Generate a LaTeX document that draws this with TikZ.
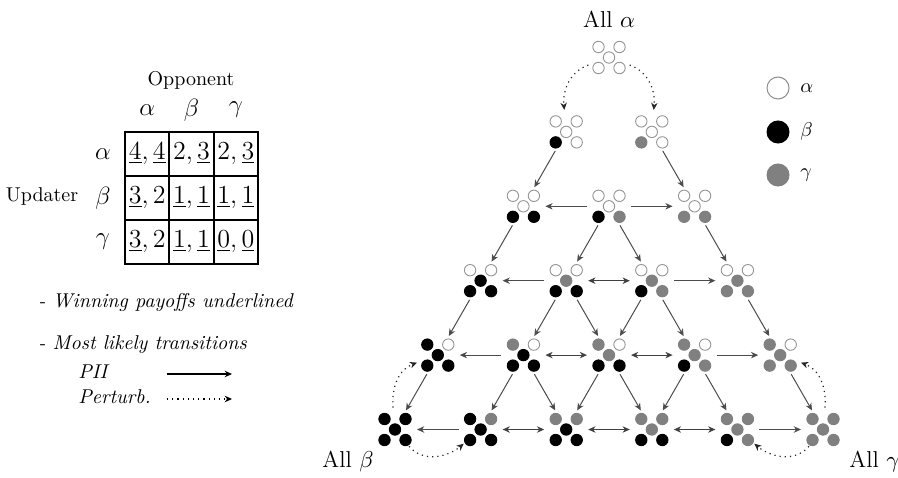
\RequirePackage{fix-cm}
\documentclass[tikz,border=0pt]{standalone}
\usetikzlibrary{arrows.meta}
\tikzset{
  state/.style={circle,minimum size=22pt,inner sep=0pt,outer sep=0pt},
  alphac/.style={circle,draw=black!42,line width=0.45pt,fill=white,minimum size=5.7pt,inner sep=0pt},
  betac/.style={circle,draw=black,line width=0.45pt,fill=black,minimum size=5.7pt,inner sep=0pt},
  gammac/.style={circle,draw=black!50,line width=0.45pt,fill=black!50,minimum size=5.7pt,inner sep=0pt},
  legc/.style={circle,line width=0.5pt,minimum size=11pt,inner sep=0pt},
  tipp/.tip={Stealth[length=3.6pt,width=3.2pt,inset=1.1pt]},
  pii/.style={draw=black!70,line width=0.5pt,-tipp},
  piib/.style={draw=black!75,line width=0.55pt,tipp-tipp},
  pert/.style={draw=black!85,line width=0.6pt,dotted,-tipp},
  cell/.style={draw=black,line width=0.9pt,minimum width=22.15pt,minimum height=22pt,inner sep=0pt,font=\fontsize{13}{15}\selectfont},
  lab/.style={inner sep=0pt,font=\fontsize{12.5}{14}\selectfont},
  txt/.style={inner sep=0pt,font=\fontsize{10}{12}\selectfont},
  itx/.style={inner sep=0pt,anchor=west,font=\fontsize{10}{12}\selectfont\itshape},
  alll/.style={inner sep=0pt,font=\fontsize{11.5}{13}\selectfont}
}
\begin{document}
\begin{tikzpicture}[x=0.5pt,y=0.5pt]
\useasboundingbox (0,0) rectangle (898,477);
% ---------- payoff matrix ----------
\node[txt] (opp) at (191,397) {Opponent};
\node[lab] (ca) at (147.2,367) {$\alpha$};
\node[lab] (cb) at (191.5,367) {$\beta$};
\node[lab] (cg) at (235.8,367) {$\gamma$};
\node[txt] (upd) at (42,280) {Updater};
\node[lab] (ra) at (103,323) {$\alpha$};
\node[lab] (rb) at (103,279) {$\beta$};
\node[lab] (rg) at (103,235) {$\gamma$};
\node[cell] (c11) at (147.2,323) {$\underline{4},\underline{4}$};
\node[cell] (c12) at (191.5,323) {$2,\underline{3}$};
\node[cell] (c13) at (235.8,323) {$2,\underline{3}$};
\node[cell] (c21) at (147.2,279) {$\underline{3},2$};
\node[cell] (c22) at (191.5,279) {$\underline{1},\underline{1}$};
\node[cell] (c23) at (235.8,279) {$\underline{1},\underline{1}$};
\node[cell] (c31) at (147.2,235) {$\underline{3},2$};
\node[cell] (c32) at (191.5,235) {$\underline{1},\underline{1}$};
\node[cell] (c33) at (235.8,235) {$\underline{0},\underline{0}$};
% ---------- notes ----------
\node[itx] (n1t) at (38,175) {- Winning payoffs underlined};
\node[itx] (n2t) at (38,132) {- Most likely transitions};
\node[itx] (piit) at (78,105) {PII};
\node[itx] (pert) at (78,80) {Perturb.};
\coordinate (pa1) at (167,103);
\coordinate (pa2) at (232,103);
\coordinate (pb1) at (167,78);
\coordinate (pb2) at (232,78);
\draw[draw=black,line width=0.6pt,-tipp] (pa1) -- (pa2);
\draw[pert,draw=black] (pb1) -- (pb2);
% ---------- colour legend ----------
\node[legc,draw=black!45,fill=white] (la) at (778,389) {};
\node[legc,draw=black,fill=black] (lb) at (778,345) {};
\node[legc,draw=black!50,fill=black!50] (lg) at (778,302) {};
\node[txt,anchor=west] (lat) at (800,389) {$\alpha$};
\node[txt,anchor=west] (lbt) at (800,345) {$\beta$};
\node[txt,anchor=west] (lgt) at (800,302) {$\gamma$};
% ---------- states ----------
\foreach \rr in {0,...,5}{
  \foreach \jj in {0,...,\rr}{
    \node[state] (n\rr-\jj) at ({609+(\jj-\rr/2)*85.6},{419.5-74.4*\rr}) {};
    \pgfmathtruncatemacro\mynb{\rr-\jj}
    \foreach \kk/\dx/\dy in {1/-10.5/-10.5,2/10.5/-10.5,3/0/0,4/-10.5/10.5,5/10.5/10.5}{
      \ifnum\kk>\rr\relax \def\cst{alphac}\else\ifnum\kk>\mynb\relax \def\cst{gammac}\else \def\cst{betac}\fi\fi
      \node[\cst] (n\rr-\jj-\kk) at ([shift={(\dx,\dy)}]n\rr-\jj.center) {};
    }
  }
}
% ---------- PII transitions ----------
\foreach \rr in {1,...,4}{
  \pgfmathtruncatemacro\myrn{\rr+1}
  \foreach \jj in {0,...,\rr}{
    \pgfmathtruncatemacro\myjn{\jj+1}
    \ifnum\jj<\rr\relax \draw[pii] (n\rr-\jj) -- (n\myrn-\jj);\fi
    \ifnum\jj>0\relax \draw[pii] (n\rr-\jj) -- (n\myrn-\myjn);\fi
  }
}
\foreach \rr in {2,...,5}{
  \pgfmathtruncatemacro\myrp{\rr-1}
  \draw[pii] (n\rr-1) -- (n\rr-0);
  \draw[pii] (n\rr-\myrp) -- (n\rr-\rr);
  \ifnum\rr>2\relax
    \pgfmathtruncatemacro\myrq{\rr-2}
    \foreach \jj in {1,...,\myrq}{
      \pgfmathtruncatemacro\myjn{\jj+1}
      \draw[piib] (n\rr-\jj) -- (n\rr-\myjn);
    }
  \fi
}
% ---------- perturbations ----------
\draw[pert] (n0-0) to[out=200,in=95] (n1-0);
\draw[pert] (n0-0) to[out=-20,in=85] (n1-1);
\draw[pert] (n5-0) to[out=95,in=200] (n4-0);
\draw[pert] (n5-0) to[out=-50,in=220] (n5-1);
\draw[pert] (n5-5) to[out=85,in=-20] (n4-4);
\draw[pert] (n5-5) to[out=230,in=-40] (n5-4);
% ---------- corner labels ----------
\node[alll] (alla) at (609,458) {All $\alpha$};
\node[alll] (allb) at (348,15) {All $\beta$};
\node[alll,anchor=west] (allg) at (849,15) {All $\gamma$};
\end{tikzpicture}
\end{document}
